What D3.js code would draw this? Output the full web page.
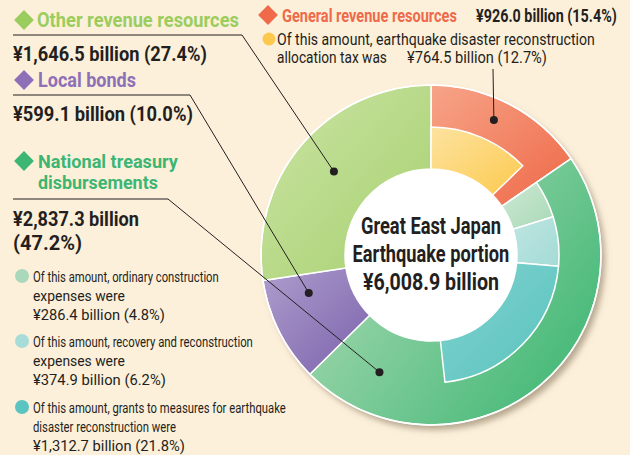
<!DOCTYPE html>
<html>
<head>
<meta charset="utf-8">
<script src="https://cdn.jsdelivr.net/npm/d3@7"></script>
<style>
  html, body { margin: 0; padding: 0; background: #fdf0db; }
  svg { display: block; }
  text { font-family: "Liberation Sans Narrow", "Roboto", "Liberation Sans", sans-serif; }
</style>
</head>
<body>
<svg id="chart" width="630" height="455"></svg>
<script>
// main categories (outer ring), clockwise from 12 o'clock
var outerNames = ["General revenue resources", "National treasury disbursements", "Local bonds", "Other revenue resources"];
var outerValues = [926.0, 2837.3, 599.1, 1646.5];
var outerColors = [["#f7a488", "#ee6847"], ["#a6d8b0", "#35b46f"], ["#ae9dcd", "#7b62ab"], ["#cbe4a4", "#a6d06f"]];

// sub items (inner ring), each inside a parent category
var innerNames = ["Earthquake disaster reconstruction allocation tax", "Ordinary construction expenses",
                  "Recovery and reconstruction expenses", "Grants to measures for earthquake disaster reconstruction"];
var innerValues = [764.5, 286.4, 374.9, 1312.7];
var innerParent = [0, 1, 1, 1];
var innerColors = [["#fde3a0", "#fcc94e"], ["#cde8d3", "#a9d9b6"], ["#bee5e1", "#a4dbd6"], ["#82d3cf", "#58c2be"]];
var innerDotColors = ["#fdc84e", "#a9d9ba", "#a8dcd9", "#5cc4c0"];

var total = d3.sum(outerValues);
var fmtV = d3.format(",.1f");
var fmtP = function(v) { return d3.format(".1f")(v / total * 100) + "%"; };

var svg = d3.select("#chart");
var cx = 431, cy = 255;
var rHole = 86, rMid = 128, rOuter = 170;

var defs = svg.append("defs");

// drop shadow behind the ring
var f = defs.append("filter").attr("id", "shadow").attr("x", "-20%").attr("y", "-20%").attr("width", "140%").attr("height", "140%");
f.append("feDropShadow").attr("dx", 4).attr("dy", 5).attr("stdDeviation", 3)
    .attr("flood-color", "#7a6a50").attr("flood-opacity", 0.55);

function makeGrad(id, c, y1) {
    var g = defs.append("linearGradient").attr("id", id)
        .attr("x1", 0).attr("y1", y1 || 0).attr("x2", 1).attr("y2", 1);
    g.append("stop").attr("offset", "0%").attr("stop-color", c[0]);
    g.append("stop").attr("offset", "100%").attr("stop-color", c[1]);
}
outerColors.forEach((c, i) => makeGrad("og" + i, c, i == 1 ? 0.35 : 0));
innerColors.forEach((c, i) => makeGrad("ig" + i, c, 0));

// angle scale (value -> radians)
var angle = d3.scaleLinear().domain([0, total]).range([0, 2 * Math.PI]);

var pie = d3.pie().sort(null).value(d => d);
var outerArcs = pie(outerValues);

// inner pieces placed inside their parent
var innerArcs = innerValues.map(function(v, i) {
    var p = innerParent[i];
    var before = d3.sum(outerValues.slice(0, p)) + d3.sum(innerValues.slice(0, i).filter((_, j) => innerParent[j] == p));
    return { startAngle: angle(before), endAngle: angle(before + v), index: i };
});

var arcOuter = d3.arc().innerRadius(rHole).outerRadius(rOuter);
var arcInner = d3.arc().innerRadius(rHole).outerRadius(rMid);

var ring = svg.append("g").attr("transform", `translate(${cx},${cy})`);

ring.append("circle").attr("r", rOuter).attr("fill", "#ffffff").attr("filter", "url(#shadow)");

ring.selectAll("path.outer")
    .data(outerArcs)
    .enter()
    .append("path")
    .attr("class", "outer")
    .attr("d", arcOuter)
    .attr("fill", (d, i) => `url(#og${i})`)
    .attr("stroke", "#fff")
    .attr("stroke-width", 1.5);

ring.selectAll("path.inner")
    .data(innerArcs)
    .enter()
    .append("path")
    .attr("class", "inner")
    .attr("d", arcInner)
    .attr("fill", d => `url(#ig${d.index})`)
    .attr("stroke", "#fff")
    .attr("stroke-width", 1.5);

ring.append("circle").attr("r", rOuter).attr("fill", "none").attr("stroke", "#fff").attr("stroke-width", 1.5);
ring.append("circle").attr("r", rHole).attr("fill", "#fff");

// text helper: condensed type, squeezed to the width seen in the original
function label(t, x, y, w, size, weight, color, anchor) {
    var node = svg.append("text")
        .attr("font-size", size)
        .attr("font-weight", weight)
        .attr("fill", color)
        .text(t);
    var len = node.node().getComputedTextLength();
    var sx = Math.min(1, w / len);
    var x0 = anchor == "middle" ? x - w / 2 : x;
    node.attr("transform", `translate(${x0},${y}) scale(${sx},1)`);
}

// center text
var centerLines = ["Great East Japan", "Earthquake portion", "¥" + fmtV(total) + " billion"];
var centerWidths = [140, 157, 136];
centerLines.forEach(function(t, i) {
    label(t, cx, cy - 21 + i * 28, centerWidths[i], 24, "bold", "#231f20", "middle");
});

// leader dots: where along the slice (fraction of angle) and at which radius
function polar(a, r) { return [cx + r * Math.sin(a), cy - r * Math.cos(a)]; }
var innerEnd1 = innerArcs[3].endAngle;
var dots = [
    polar(outerArcs[0].startAngle + 0.45 * (outerArcs[0].endAngle - outerArcs[0].startAngle), 149),
    polar(innerEnd1 + 0.58 * (outerArcs[1].endAngle - innerEnd1), 128),
    polar(outerArcs[2].startAngle + 0.76 * (outerArcs[2].endAngle - outerArcs[2].startAngle), 128),
    polar(outerArcs[3].startAngle + 0.5 * (outerArcs[3].endAngle - outerArcs[3].startAngle), 128)
];
var leaders = [
    [[493, 69]],
    [[13, 199], [168, 199]],
    [[13, 95], [190, 95]],
    [[13, 35], [242, 35]]
];
leaders.forEach(function(pts, i) {
    svg.append("path")
        .attr("d", d3.line()(pts.concat([dots[i]])))
        .attr("fill", "none")
        .attr("stroke", "#231f20")
        .attr("stroke-width", 1);
    svg.append("circle").attr("cx", dots[i][0]).attr("cy", dots[i][1]).attr("r", 4).attr("fill", "#231f20");
});

function diamond(x, y, s, color) {
    svg.append("path")
        .attr("d", d3.symbol().type(d3.symbolSquare).size(s * s)())
        .attr("transform", `translate(${x},${y}) rotate(45)`)
        .attr("fill", color);
}
function amount(i) { return "¥" + fmtV(outerValues[i]) + " billion (" + fmtP(outerValues[i]) + ")"; }
function subAmount(i) { return "¥" + fmtV(innerValues[i]) + " billion (" + fmtP(innerValues[i]) + ")"; }

var dark = "#231f20";
var titleColors = ["#ef6a4a", "#3cb672", "#8d70b7", "#9bcd5e"];

// Other revenue resources
diamond(24, 20, 14, titleColors[3]);
label(outerNames[3], 37, 27, 202, 19.5, "bold", titleColors[3]);
label(amount(3), 13, 61, 194, 20, "bold", dark);

// Local bonds
diamond(24, 80, 14, titleColors[2]);
label(outerNames[2], 38, 87, 98, 19.5, "bold", titleColors[2]);
label(amount(2), 13, 121, 180, 20, "bold", dark);

// National treasury disbursements
diamond(24, 161, 14, titleColors[1]);
label("National treasury", 38, 167.5, 140, 18.5, "bold", titleColors[1]);
label("disbursements", 38, 188.5, 120, 18.5, "bold", titleColors[1]);
label("¥" + fmtV(outerValues[1]) + " billion", 13, 226, 126, 20, "bold", dark);
label("(" + fmtP(outerValues[1]) + ")", 13, 250, 69, 20, "bold", dark);

var subLines = [
    null,
    [["Of this amount, ordinary construction", 186], ["expenses were", 92], [subAmount(1), 132]],
    [["Of this amount, recovery and reconstruction", 220], ["expenses were", 92], [subAmount(2), 133]],
    [["Of this amount, grants to measures for earthquake", 253], ["disaster reconstruction were", 143], [subAmount(3), 152]]
];
var subTop = [null, 282, 347, 413];
[1, 2, 3].forEach(function(i) {
    svg.append("circle").attr("cx", 22).attr("cy", subTop[i] - 6).attr("r", 7).attr("fill", innerDotColors[i]);
    subLines[i].forEach(function(l, k) {
        label(l[0], 33, subTop[i] + k * 19, l[1], 15, "normal", dark);
    });
});

// General revenue resources
diamond(268, 15, 14, titleColors[0]);
label(outerNames[0], 282, 22, 175, 18, "bold", titleColors[0]);
label(amount(0), 476, 22, 141, 18, "bold", dark);
svg.append("circle").attr("cx", 269).attr("cy", 39).attr("r", 6.5).attr("fill", innerDotColors[0]);
label("Of this amount, earthquake disaster reconstruction", 277, 45, 318, 16, "normal", dark);
label("allocation tax was", 277, 63, 110, 16, "normal", dark);
label(subAmount(0), 407, 63, 140, 16, "normal", dark);
</script>
</body>
</html>
